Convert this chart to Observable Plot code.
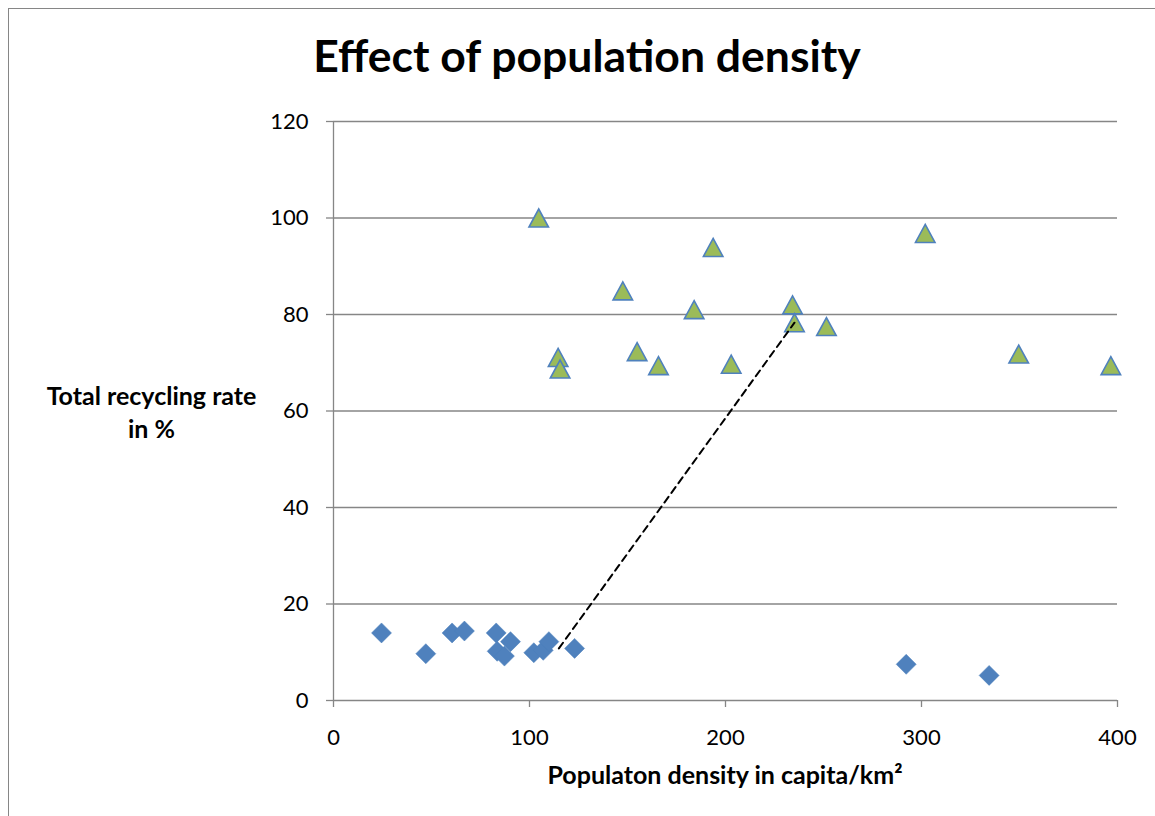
<!DOCTYPE html>
<html>
<head>
<meta charset="utf-8">
<script src="https://cdn.jsdelivr.net/npm/d3@7"></script>
<script src="https://cdn.jsdelivr.net/npm/@observablehq/plot@0.6"></script>
<style>
  html, body { margin: 0; padding: 0; background: #fff; }
  #page { position: relative; width: 1155px; height: 816px; overflow: hidden; font-family: Lato, "Open Sans", sans-serif; }
  #frame { position: absolute; left: 8px; top: 8px; width: 1200px; height: 900px; border: 1px solid #868686; box-sizing: border-box; }
  #title { position: absolute; left: 187px; width: 800px; top: 27.5px; text-align: center; font-weight: bold; font-size: 44.5px; line-height: 54px; color: #000; white-space: nowrap; }
  #ylab { position: absolute; left: 11px; width: 281px; top: 378.8px; text-align: center; font-weight: bold; font-size: 25px; line-height: 33px; color: #000; white-space: nowrap; }
  #xlab { position: absolute; left: 425px; width: 600px; top: 758.6px; text-align: center; font-weight: bold; font-size: 25px; line-height: 30px; color: #000; white-space: nowrap; }
  #chart { position: absolute; left: 0; top: 100px; }
</style>
</head>
<body>
<div id="page">
  <div id="frame"></div>
  <div id="title">Effect of population density</div>
  <div id="ylab">Total recycling rate<br>in %</div>
  <div id="xlab">Populaton density in capita/km²</div>
  <div id="chart"></div>
</div>
<script>
// Low-density regions (blue diamonds)
const diamondX = [24.5, 47.1, 60.5, 66.8, 83.0, 83.5, 90.3, 87.2, 102.2, 107.0, 109.9, 123.0, 292.2, 334.5];
const diamondY = [14.0, 9.7, 14.0, 14.4, 14.0, 10.2, 12.2, 9.2, 9.9, 10.4, 12.2, 10.8, 7.5, 5.2];
// High-rate regions (green triangles)
const triangleX = [104.7, 193.7, 147.6, 184.0, 234.2, 235.2, 251.5, 114.6, 115.6, 154.9, 165.8, 202.9, 301.9, 349.6, 396.6];
const triangleY = [100.0, 93.9, 84.9, 81.0, 82.0, 78.3, 77.5, 71.1, 68.7, 72.3, 69.4, 69.7, 96.8, 71.8, 69.4];
// Dashed connector
const trendX = [115.0, 235.2];
const trendY = [10.8, 78.3];
// Axis ticks
const xTicks = [0, 100, 200, 300, 400];
const yTicks = [0, 20, 40, 60, 80, 100, 120];

const diamonds = diamondX.map((x, i) => ({x, y: diamondY[i]}));
const triangles = triangleX.map((x, i) => ({x, y: triangleY[i]}));
const trend = trendX.map((x, i) => ({x, y: trendY[i]}));

const diamondSym = {draw(ctx) { const h = 10; ctx.moveTo(0, -h); ctx.lineTo(h, 0); ctx.lineTo(0, h); ctx.lineTo(-h, 0); ctx.closePath(); }};
const triangleSym = {draw(ctx) { ctx.moveTo(0, -9); ctx.lineTo(9.75, 9); ctx.lineTo(-9.75, 9); ctx.closePath(); }};

const grey = "#868686";
const chart = Plot.plot({
  width: 1155,
  height: 716,
  marginLeft: 333,
  marginRight: 38,
  marginTop: 21,
  marginBottom: 116,
  style: {fontFamily: "Lato, 'Open Sans', sans-serif", fontSize: "22px", color: "#000", background: "transparent", overflow: "visible"},
  x: {domain: [0, 400]},
  y: {domain: [0, 120]},
  marks: [
    Plot.gridY(yTicks.filter(v => v > 0), {stroke: grey, strokeOpacity: 1, strokeWidth: 1.3}),
    Plot.ruleY([0], {stroke: grey, strokeWidth: 1.3}),
    Plot.ruleX([0], {stroke: grey, strokeWidth: 1.3}),
    Plot.axisX(xTicks, {tickSize: 7, tickPadding: 22, stroke: grey, strokeWidth: 1.3, fill: "#000", label: null, fontSize: 22}),
    Plot.axisY(yTicks, {tickSize: 7, tickPadding: 18, stroke: grey, strokeWidth: 1.3, fill: "#000", label: null, fontSize: 22}),
    Plot.dot(diamonds, {x: "x", y: "y", symbol: diamondSym, fill: "#4F81BD", stroke: "#4A7EBB", strokeWidth: 0.5}),
    Plot.dot(triangles, {x: "x", y: "y", symbol: triangleSym, fill: "#9BBB59", stroke: "#4F81BD", strokeWidth: 1.6}),
    Plot.line(trend, {x: "x", y: "y", stroke: "#000", strokeWidth: 2, strokeDasharray: "7,5"})
  ]
});
document.getElementById("chart").appendChild(chart);
</script>
</body>
</html>
